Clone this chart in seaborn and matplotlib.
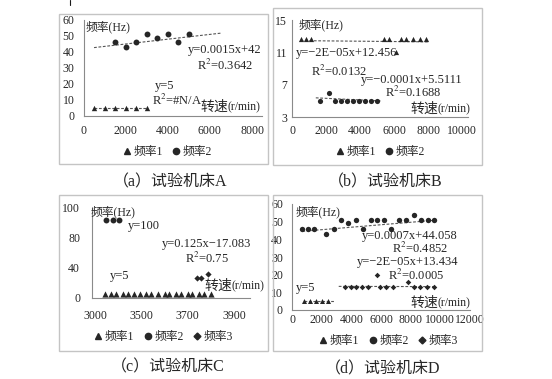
import numpy as np
import matplotlib
matplotlib.use('Agg')
import matplotlib.pyplot as plt
from matplotlib.lines import Line2D
from matplotlib.patches import Rectangle
import seaborn as sns

W, H = 552, 379

# ---- values ----
# (a) 试验机床A
a_f1_rpm = [500, 1000, 1500, 2000, 2500, 3000]
a_f1_hz = [5, 5, 5, 5, 5, 5]
a_f2_rpm = [1500, 2000, 2500, 3000, 3500, 4000, 4500, 5000]
a_f2_hz = [46, 43, 46, 51, 49, 51, 46, 51]
a_fit1 = [0.0, 5.0]          # slope, intercept (from the chart text)
a_fit1_span = [500, 3000]
a_fit2 = [0.0015, 42.0]
a_fit2_span = [500, 6500]

# (b) 试验机床B
b_f1_rpm = [500, 800, 1100, 5400, 5700, 6100, 6400, 6700, 7100, 7500, 7900]
b_f1_hz = [12.7, 12.7, 12.7, 12.7, 12.7, 11, 12.7, 12.7, 12.7, 12.7, 12.7]
b_f2_rpm = [1650, 2150, 2500, 2900, 3250, 3600, 3950, 4300, 4650, 5000]
b_f2_hz = [5, 6, 5, 5, 5, 5, 5, 5, 5, 5]
b_fit1 = [-2e-05, 12.456]
b_fit1_span = [500, 8000]
b_fit2 = [-0.0001, 5.5111]
b_fit2_span = [1400, 5200]

# (c) 试验机床C
c_f1_rpm = [3110, 3170, 3230, 3300, 3360, 3420, 3490, 3520, 3540, 3570,
            3600, 3620, 3650, 3670, 3700, 3720, 3750, 3770, 3800]
c_f1_hz = [5, 5, 5, 5, 5, 5, 5, 5, 5, 5, 5, 5, 5, 5, 5, 5, 5, 5, 5]
c_f2_rpm = [3120, 3190, 3260]
c_f2_hz = [92, 92, 92]
c_f3_rpm = [3740, 3760, 3790]
c_f3_hz = [27, 27, 32]

# (d) 试验机床D
d_f1_rpm = [800, 1200, 1600, 2000, 2400]
d_f1_hz = [5, 5, 5, 5, 5]
d_f2_rpm = [700, 1100, 1500, 2300, 2800, 3300, 3800, 4300, 4800, 5300,
            5700, 6200, 6700, 7200, 7700, 8200, 8700, 9200, 9600]
d_f2_hz = [46, 46, 46, 43, 46, 51, 49, 51, 46, 51,
           51, 51, 46, 51, 51, 54, 51, 51, 51]
d_f3_rpm = [3550, 3950, 4300, 4700, 5100, 5700, 5950, 6350, 6800, 7800,
            8200, 8650, 9100, 9550]
d_f3_hz = [13, 13, 13, 13, 13, 20, 13, 13, 13, 16, 13, 13, 13, 13]
d_fit1 = [0.0, 5.0]
d_fit1_span = [800, 2800]
d_fit2 = [0.0007, 44.058]
d_fit2_span = [700, 9700]
d_fit3 = [-2e-05, 13.434]
d_fit3_span = [3150, 9700]

# tick labels
a_xticks = [0, 2000, 4000, 6000, 8000]
a_yticks = [0, 10, 20, 30, 40, 50, 60]
b_xticks = [0, 2000, 4000, 6000, 8000, 10000]
b_yticks = [3, 7, 11, 15]
c_xticks = [3000, 3500, 3700, 3900]
c_yticks = [0, 40, 80, 100]
d_xticks = [0, 2000, 4000, 6000, 8000, 10000, 12000]
d_yticks = [0, 10, 20, 30, 40, 50, 60]

sns.set_theme(style='white')
plt.rcParams['font.family'] = ['Liberation Serif', 'Noto Sans CJK SC']
plt.rcParams['mathtext.fontset'] = 'stix'

TXT = '#262626'
MK = '#262626'
SP = '#8a8a8a'
FS = 8.5

fig = plt.figure(figsize=(W / 100, H / 100), dpi=100)


def px_axes(l, r, t, b):
    return fig.add_axes([l / W, 1 - b / H, (r - l) / W, (b - t) / H])


def px_text(x, y, s, size=9, ha='left'):
    fig.text(x / W, 1 - y / H, s, ha=ha, va='center', fontsize=size, color=TXT)


def box(l, t, r, b):
    fig.add_artist(Rectangle((l / W, 1 - b / H), (r - l) / W, (b - t) / H,
                             transform=fig.transFigure, fill=False,
                             edgecolor='#c4c4c4', lw=1.0))


def pts(ax, x, y, marker, s):
    sns.scatterplot(x=x, y=y, ax=ax, marker=marker, color=MK, s=s,
                    linewidth=0, legend=False, zorder=3)


def fit(ax, coef, span):
    xs = np.array(span, dtype=float)
    sns.lineplot(x=xs, y=coef[0] * xs + coef[1], ax=ax, color='#555555',
                 lw=0.8, linestyle=(0, (2.5, 1.5)), zorder=2)


def style(ax, xt, yt, xpad, ypad):
    ax.set_xticks(xt, labels=[str(t) for t in xt])
    ax.set_yticks(yt, labels=[str(t) for t in yt])
    ax.minorticks_off()
    ax.tick_params(length=0, labelsize=FS, labelcolor=TXT)
    ax.tick_params(axis='x', pad=xpad)
    ax.tick_params(axis='y', pad=ypad)
    for k in ['top', 'right']:
        ax.spines[k].set_visible(False)
    for k in ['left', 'bottom']:
        ax.spines[k].set_color(SP)
        ax.spines[k].set_linewidth(0.8)
    ax.set_xlabel('')
    ax.set_ylabel('')
    ax.patch.set_alpha(0)


def legend(items, cx, cy):
    handles = [Line2D([], [], ls='none', marker=m, color=MK, markersize=ms)
               for m, ms, _ in items]
    fig.legend(handles, [lb for _, _, lb in items], loc='center',
               bbox_to_anchor=(cx / W, 1 - cy / H), ncol=len(items),
               frameon=False, fontsize=FS, handletextpad=0.1,
               columnspacing=0.7, handlelength=0.9, borderpad=0,
               labelcolor=TXT)


def speed_label(x, y):
    px_text(x, y, '转速', size=10)
    px_text(x + 27, y + 0.5, '(r/min)', size=8.5)


# ---- (a) ----
box(59, 14, 268, 164)
ax = px_axes(83.5, 261.5, 20, 116)
fit(ax, a_fit1, a_fit1_span)
fit(ax, a_fit2, a_fit2_span)
pts(ax, a_f1_rpm, a_f1_hz, '^', 15)
pts(ax, a_f2_rpm, a_f2_hz, 'o', 18)
ax.set_xlim(0, 8450)
ax.set_ylim(0, 60)
style(ax, a_xticks, a_yticks, 6.5, 6.5)
px_text(86, 27, '频率(Hz)', size=FS)
px_text(261, 50, 'y=0.0015x+42', ha='right')
px_text(253, 65, 'R$^{2}$=0.3642', ha='right')
px_text(155, 86.5, 'y=5')
px_text(152, 100, 'R$^{2}$=#N/A')
speed_label(200, 107)
legend([('^', 4.5, '频率1'), ('o', 4.5, '频率2')], 167, 152)
px_text(170, 182, '（a）试验机床A', size=11.5, ha='center')

# ---- (b) ----
box(273, 8, 482, 165)
ax = px_axes(292, 468, 20, 117)
fit(ax, b_fit1, b_fit1_span)
fit(ax, b_fit2, b_fit2_span)
pts(ax, b_f1_rpm, b_f1_hz, '^', 14)
pts(ax, b_f2_rpm, b_f2_hz, 'o', 14)
ax.set_xlim(0, 10350)
ax.set_ylim(3, 15)
style(ax, b_xticks, b_yticks, 5.5, 3.6)
px_text(299, 25, '频率(Hz)', size=FS)
px_text(296, 53, 'y=−2E−05x+12.456')
px_text(311, 71, 'R$^{2}$=0.0132')
px_text(361, 80.5, 'y=−0.0001x+5.5111')
px_text(385, 92.5, 'R$^{2}$=0.1688')
speed_label(410, 109)
legend([('^', 4.5, '频率1'), ('o', 4.5, '频率2')], 380, 152)
px_text(385, 182, '（b）试验机床B', size=11.5, ha='center')

# ---- (c) : uneven axes, as in the original ----
cx_k = [2500, 3000, 3500, 3700, 3900, 4100]
cy_k = [-40, 0, 40, 80, 100, 120]
uk = [-1, 0, 1, 2, 3, 4]

box(59, 195, 268, 351)
ax = px_axes(91.7, 250, 208, 298)
pts(ax, c_f1_rpm, c_f1_hz, '^', 20)
pts(ax, c_f2_rpm, c_f2_hz, 'o', 18)
pts(ax, c_f3_rpm, c_f3_hz, 'D', 10)
ax.set_xscale('function', functions=(lambda v: np.interp(v, cx_k, uk),
                                     lambda u: np.interp(u, uk, cx_k)))
ax.set_yscale('function', functions=(lambda v: np.interp(v, cy_k, uk),
                                     lambda u: np.interp(u, uk, cy_k)))
ax.set_xlim(2962, 3970)
ax.set_ylim(0, 100)
style(ax, c_xticks, c_yticks, 8.6, 8.4)
px_text(91, 212, '频率(Hz)', size=FS)
px_text(128, 226, 'y=100')
px_text(162, 244, 'y=0.125x−17.083')
px_text(185, 258, 'R$^{2}$=0.75')
px_text(110, 276, 'y=5')
speed_label(204, 286)
legend([('^', 4.5, '频率1'), ('o', 4.5, '频率2'), ('D', 3.5, '频率3')], 163, 337)
px_text(168, 367, '（c）试验机床C', size=11.5, ha='center')

# ---- (d) ----
box(273, 195, 482, 351)
ax = px_axes(292, 470, 204, 310)
fit(ax, d_fit1, d_fit1_span)
fit(ax, d_fit2, d_fit2_span)
fit(ax, d_fit3, d_fit3_span)
pts(ax, d_f1_rpm, d_f1_hz, '^', 13)
pts(ax, d_f2_rpm, d_f2_hz, 'o', 15)
pts(ax, d_f3_rpm, d_f3_hz, 'D', 8)
ax.set_xlim(0, 12000)
ax.set_ylim(0, 60)
style(ax, d_xticks, d_yticks, 3, 6.5)
px_text(296, 212, '频率(Hz)', size=FS)
px_text(362, 236, 'y=0.0007x+44.058')
px_text(392, 248.5, 'R$^{2}$=0.4852')
px_text(357, 262, 'y=−2E−05x+13.434')
px_text(388, 275, 'R$^{2}$=0.0005')
px_text(296, 288, 'y=5')
speed_label(410, 303)
legend([('^', 4.5, '频率1'), ('o', 4.5, '频率2'), ('D', 3.5, '频率3')], 388, 341)
px_text(383, 369, '（d）试验机床D', size=11.5, ha='center')

# small stray tick at the top edge of the page
fig.add_artist(Line2D([70 / W, 70 / W], [1, 1 - 5 / H], color='k', lw=0.8,
                      transform=fig.transFigure))

fig.savefig('out.png', dpi=100)
